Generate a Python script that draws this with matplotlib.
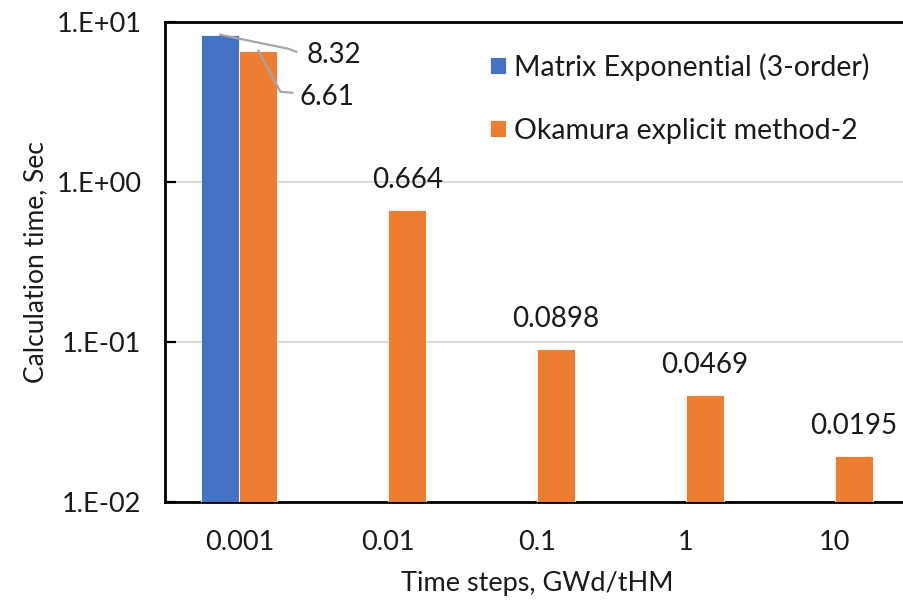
import numpy as np
import matplotlib
matplotlib.use("Agg")
import matplotlib.pyplot as plt
from matplotlib.lines import Line2D
from matplotlib.transforms import IdentityTransform

# Data
categories = ["0.001", "0.01", "0.1", "1", "10"]
matrix_exp = [8.32, np.nan, np.nan, np.nan, np.nan]
okamura = [6.61, 0.664, 0.0898, 0.0469, 0.0195]
series_names = ["Matrix Exponential (3-order)", "Okamura explicit method-2"]
y_ticks = [1e-2, 1e-1, 1e0, 1e1]
y_tick_labels = ["1.E-02", "1.E-01", "1.E+00", "1.E+01"]

BLUE = "#4472C4"
ORANGE = "#ED7D31"
TEXT = "#1a1a1a"

plt.rcParams["font.family"] = ["Lato", "DejaVu Sans"]

W, H, DPI = 904, 600, 100
fig = plt.figure(figsize=(W / DPI, H / DPI), dpi=DPI)
ax = fig.add_axes([165 / W, (H - 502) / H, (909 - 165) / W, 480 / H])

x = np.arange(len(categories))
bw = 0.256
ax.bar(x - bw / 2, matrix_exp, width=bw, color=BLUE, edgecolor="white",
       linewidth=0.6, label=series_names[0], zorder=3)
ax.bar(x + bw / 2, okamura, width=bw, color=ORANGE, edgecolor="white",
       linewidth=0.6, label=series_names[1], zorder=3)

ax.set_yscale("log")
ax.set_ylim(1e-2, 1e1)
ax.set_xlim(-0.5, len(categories) - 0.5)
ax.set_yticks(y_ticks)
ax.set_yticklabels(y_tick_labels)
ax.yaxis.set_minor_locator(matplotlib.ticker.NullLocator())
ax.set_xticks(x)
ax.set_xticklabels(categories)

ax.tick_params(axis="x", length=0, pad=20, labelsize=19.5, labelcolor=TEXT)
ax.tick_params(axis="y", direction="in", length=8, width=1.6, pad=17,
               labelsize=19.5, labelcolor=TEXT, color="black")

ax.grid(axis="y", color="#d9d9d9", linewidth=1.5, zorder=0)
ax.set_axisbelow(True)
for side in ["left", "bottom", "top"]:
    ax.spines[side].set_linewidth(2)
    ax.spines[side].set_color("black")
ax.spines["right"].set_visible(False)

ax.set_xlabel("Time steps, GWd/tHM", fontsize=19.5, color=TEXT, labelpad=12)
ax.set_ylabel("Calculation time, Sec", fontsize=19, color=TEXT, labelpad=6)

# Value labels above the orange bars (except the first, which uses a leader)
for i, v in enumerate(okamura):
    if i == 0:
        continue
    ax.annotate(f"{v:g}", xy=(x[i] + bw / 2, v), xytext=(0, 30),
                textcoords="offset pixels", ha="center", va="center",
                fontsize=20, color=TEXT, zorder=4)

# Leader-line labels for the first category
def leader_label(xc, v, corner, end, text_off):
    px, py = ax.transData.transform((xc, v))
    pts = [(px, py), (px + corner[0], py + corner[1]), (px + end[0], py + end[1])]
    xs, ys = zip(*pts)
    fig.add_artist(Line2D(xs, ys, transform=IdentityTransform(), color="#a6a6a6",
                          linewidth=1.6, zorder=5))
    fig.text(px + text_off[0], py + text_off[1], f"{v:g}", transform=IdentityTransform(),
             ha="left", va="center", fontsize=20, color=TEXT)

leader_label(x[0] - bw / 2, matrix_exp[0], (68, -14), (76, -17), (86, -20))
leader_label(x[0] + bw / 2, okamura[0], (22, -41), (34, -42), (41, -46))

ax.legend(loc="upper left", bbox_to_anchor=(490 / W, 1 - 53 / H),
          bbox_transform=fig.transFigure, frameon=False, fontsize=20.5,
          handlelength=0.55, handleheight=0.55, handletextpad=0.3,
          labelspacing=1.3, borderpad=0, borderaxespad=0, labelcolor=TEXT)

fig.savefig("out.png", dpi=DPI)
